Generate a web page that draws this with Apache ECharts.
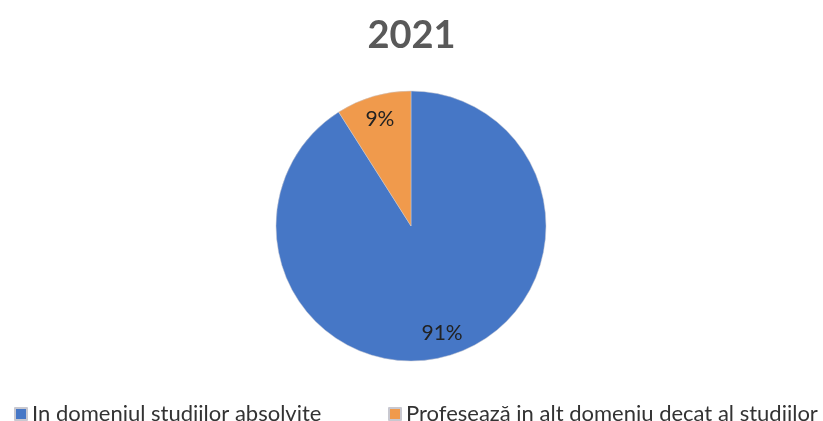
<!DOCTYPE html>
<html><head><meta charset="utf-8">
<script src="https://cdn.jsdelivr.net/npm/echarts@6/dist/echarts.min.js"></script>
<style>html,body{margin:0;padding:0;background:#fff}#c{width:823px;height:421px}</style>
</head><body><div id="c"></div>
<script>
const titleText = '2021';
const categories = ['In domeniul studiilor absolvite', 'Profesează in alt domeniu decat al studiilor'];
const values = [91, 9];
const colors = ['#4677c6', '#f09a4c'];

const chart = echarts.init(document.getElementById('c'));
const data = categories.map((n, i) => ({ name: n, value: values[i] }));
const font = 'Lato, "Open Sans", sans-serif';
chart.setOption({
  animation: false,
  color: colors,
  title: { text: titleText, left: 'center', top: 12, textStyle: { fontFamily: font, fontWeight: 'bold', fontSize: 38, color: '#595959' } },
  legend: [
    { data: [categories[0]], left: 9, top: 398, itemWidth: 12, itemHeight: 12, icon: 'rect', itemGap: 5, textStyle: { fontFamily: font, fontSize: 22, color: '#333' } },
    { data: [categories[1]], left: 383, top: 398, itemWidth: 12, itemHeight: 12, icon: 'rect', itemGap: 5, textStyle: { fontFamily: font, fontSize: 22, color: '#333' } }
  ],
  series: [
    {
      type: 'pie', center: [411, 226], radius: [0, 135], startAngle: 90, clockwise: true,
      data: data, label: { show: false }, labelLine: { show: false },
      itemStyle: { borderColor: '#c8c8d0', borderWidth: 0.5 }
    },
    {
      type: 'pie', center: [411, 226], radius: [82, 135], startAngle: 90, clockwise: true, silent: true,
      data: data, legendHoverLink: false,
      itemStyle: { color: 'transparent' },
      label: { show: true, position: 'inside', formatter: '{c}%', fontFamily: font, fontSize: 21, color: '#222' },
      labelLine: { show: false }
    }
  ]
});
</script></body></html>
